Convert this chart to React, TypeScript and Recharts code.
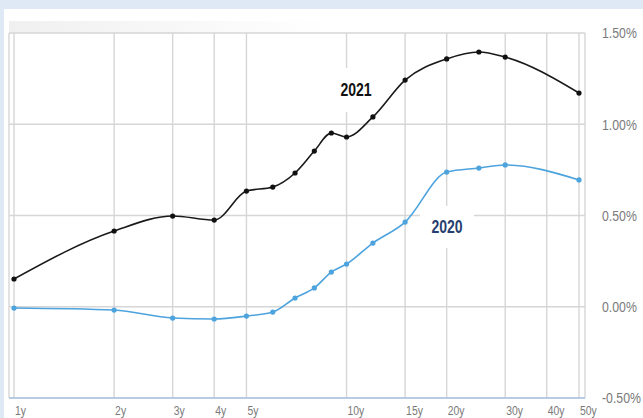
import { LineChart, Line, XAxis, YAxis, CartesianGrid } from "recharts";

const maturities = [1, 2, 3, 4, 5, 6, 7, 8, 9, 10, 12, 15, 20, 25, 30, 50];
const yields2021 = [0.152, 0.415, 0.497, 0.475, 0.634, 0.656, 0.733, 0.853, 0.952, 0.93, 1.04, 1.242, 1.358, 1.396, 1.368, 1.171];
const yields2020 = [-0.007, -0.018, -0.062, -0.067, -0.051, -0.029, 0.048, 0.103, 0.19, 0.234, 0.349, 0.464, 0.738, 0.76, 0.777, 0.695];
const xTicks = [1, 2, 3, 4, 5, 10, 15, 20, 30, 40, 50];
const yTicks = [-0.5, 0, 0.5, 1, 1.5];

const data = maturities.map((m, i) => ({ m, y2021: yields2021[i], y2020: yields2020[i] }));

const sans = '"Liberation Sans", Arial, sans-serif';

// narrow text: the source uses a condensed face, so squeeze horizontally
function XTick({ x, y, payload }: any) {
  return (
    <text
      transform={`translate(${x + 1},${y}) scale(0.8,1)`}
      dy="0.71em"
      textAnchor="start"
      fill="#7a7a7a"
      fontSize={13}
      fontFamily={sans}
    >
      {`${payload.value}y`}
    </text>
  );
}

function YTick({ x, y, payload }: any) {
  return (
    <text
      transform={`translate(${x},${y}) scale(0.82,1)`}
      dy="0.35em"
      textAnchor="start"
      fill="#7a7a7a"
      fontSize={15}
      fontFamily={sans}
    >
      {`${payload.value.toFixed(2)}%`}
    </text>
  );
}

const labelBox = {
  position: "absolute" as const,
  background: "#fff",
  display: "flex",
  alignItems: "center",
  justifyContent: "center",
  fontFamily: sans,
  fontWeight: 700,
  fontSize: 18,
};

export default function App() {
  return (
    <div style={{ position: "absolute", left: 0, top: 0, width: 643, height: 418, background: "#dfe9f5", overflow: "hidden" }}>
      <div style={{ position: "absolute", left: 4, top: 9, right: 0, bottom: 0, background: "#fff" }} />
      <div
        style={{
          position: "absolute",
          left: 9,
          top: 21,
          width: 320,
          height: 12,
          background: "linear-gradient(to right, rgba(240,240,240,1), rgba(240,240,240,0))",
        }}
      />
      <LineChart
        width={643}
        height={418}
        data={data}
        margin={{ top: 33, right: 0, left: 9, bottom: 0 }}
        style={{ position: "absolute", left: 0, top: 0 }}
      >
        <CartesianGrid stroke="#d6d6d6" strokeWidth={1.4} />
        <XAxis
          dataKey="m"
          type="number"
          scale="log"
          domain={[1, 50]}
          ticks={xTicks}
          interval={0}
          padding={{ left: 5, right: 6 }}
          tick={<XTick />}
          tickLine={false}
          axisLine={{ stroke: "#aac6e4", strokeWidth: 1.5 }}
          height={20}
        />
        <YAxis
          orientation="right"
          type="number"
          domain={[-0.5, 1.5]}
          ticks={yTicks}
          tick={<YTick />}
          tickLine={false}
          axisLine={false}
          tickMargin={11}
          width={58}
        />
        <Line
          type="monotone"
          dataKey="y2020"
          stroke="#4da3dd"
          strokeWidth={1.6}
          dot={{ r: 2.6, fill: "#4da3dd", stroke: "none" }}
          activeDot={false}
          isAnimationActive={false}
        />
        <Line
          type="monotone"
          dataKey="y2021"
          stroke="#1a1a1a"
          strokeWidth={1.6}
          dot={{ r: 2.6, fill: "#111", stroke: "none" }}
          activeDot={false}
          isAnimationActive={false}
        />
      </LineChart>
      <div style={{ ...labelBox, left: 338, top: 68, width: 37, height: 44, color: "#111" }}>
        <span style={{ transform: "scaleX(0.78)" }}>2021</span>
      </div>
      <div style={{ ...labelBox, left: 420, top: 206, width: 54, height: 42, color: "#273f70" }}>
        <span style={{ transform: "scaleX(0.78)" }}>2020</span>
      </div>
    </div>
  );
}
